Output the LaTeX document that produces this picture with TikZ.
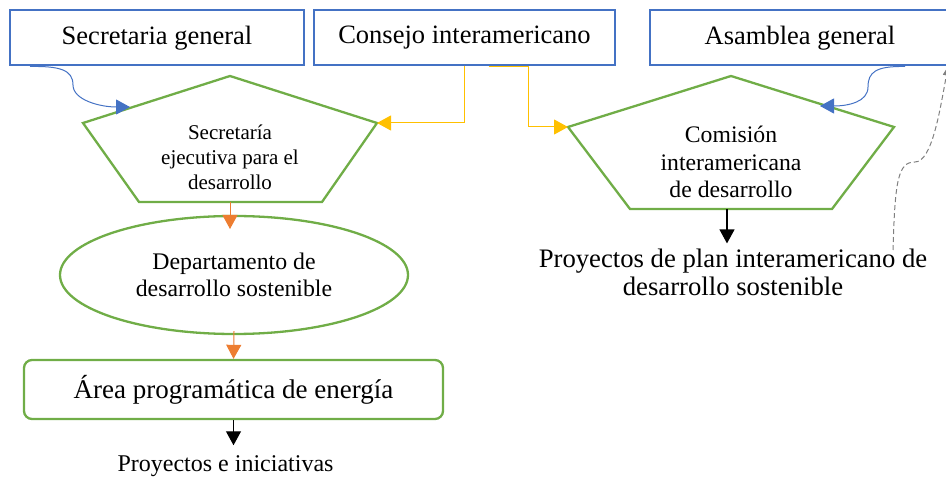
\documentclass[tikz,border=0pt]{standalone}
\usepackage{fontspec}
\setmainfont{Liberation Serif}
\usetikzlibrary{arrows.meta,shapes.geometric}
\definecolor{ofblue}{HTML}{4472C4}
\definecolor{ofgreen}{HTML}{70AD47}
\definecolor{oforange}{HTML}{ED7D31}
\definecolor{ofyellow}{HTML}{FFC000}
\definecolor{ofgray}{HTML}{808080}
\begin{document}
\begin{tikzpicture}[x=1pt,y=-1pt,
  topbox/.style={draw=ofblue,line width=2pt,minimum height=55pt,inner sep=0pt,font=\fontsize{26.5}{32}\selectfont},
  greenline/.style={draw=ofgreen,line width=2.3pt},
  conn/.style={line width=1pt},
  tri/.style={-{Triangle[length=14pt,width=15pt]}}]
\useasboundingbox (0,0) rectangle (946,478);
% top row
\node [topbox,minimum width=294pt] (sg) at (157,38) {Secretaria general};
\node [topbox,minimum width=301pt] (cons) at (464.5,38) {Consejo interamericano};
\node [topbox,minimum width=300pt] (asg) at (800,38) {Asamblea general};
% left pentagon
\coordinate (sejT) at (230,76);
\coordinate (sejR) at (377,123);
\coordinate (sejBR) at (322,202);
\coordinate (sejBL) at (139,202);
\coordinate (sejL) at (83,123);
\coordinate (sejB) at (230,202);
\coordinate (sejA) at (130,107);
\draw [greenline] (sejT) -- (sejR) -- (sejBR) -- (sejBL) -- (sejL) -- cycle;
\node [align=center,font=\fontsize{21}{25}\selectfont] (sej) at (230,157) {Secretaría\\ejecutiva para el\\desarrollo};
% right pentagon
\coordinate (cidT) at (731,76);
\coordinate (cidR) at (894,127);
\coordinate (cidBR) at (832,209);
\coordinate (cidBL) at (630,209);
\coordinate (cidL) at (568,127);
\coordinate (cidB) at (727,209);
\coordinate (cidA) at (820,106);
\draw [greenline] (cidT) -- (cidR) -- (cidBR) -- (cidBL) -- (cidL) -- cycle;
\node [align=center,font=\fontsize{23.7}{27.5}\selectfont] (cid) at (731,162) {Comisión\\interamericana\\de desarrollo};
% left column
\node [ellipse,greenline,minimum width=348pt,minimum height=118pt,align=center,font=\fontsize{23.8}{27}\selectfont] (dep) at (234,275) {Departamento de\\desarrollo sostenible};
\node [greenline,rounded corners=8pt,minimum width=419pt,minimum height=59pt,font=\fontsize{27}{32}\selectfont] (area) at (233.5,389.5) {Área programática de energía};
\node [inner ysep=10pt,font=\fontsize{24}{28}\selectfont] (proi) at (225.5,466) {Proyectos e iniciativas};
% right column
\node [align=center,inner ysep=5pt,font=\fontsize{26.7}{28}\selectfont] (proy) at (733,272) {Proyectos de plan interamericano de\\desarrollo sostenible};
\coordinate (gA) at (893,250);
% connectors
\draw [conn,ofblue,tri] ([xshift=21pt]sg.south west) .. controls (60,66) and (73,70) .. (73,85) .. controls (73,100) and (100,107) .. (sejA);
\draw [conn,ofblue,tri] ([xshift=105pt]asg.south) .. controls (876,66) and (868,72) .. (868,87) .. controls (868,102) and (848,106) .. (cidA);
\draw [conn,ofyellow,tri] (cons.south) |- (sejR);
\draw [conn,ofyellow,tri] ([xshift=24pt]cons.south) -- ([xshift=64pt]cons.south) |- (cidL);
\draw [conn,oforange,tri] (sejB) -- ++(0,27);
\draw [conn,oforange,tri] ([yshift=4pt]dep.south) -- (area.north);
\draw [line width=1.2pt,tri] (area.south) -- (area.south |- proi.north);
\draw [line width=1.2pt,tri] (cidB) -- (cidB |- proy.north);
\draw [conn,ofgray,dash pattern=on 5pt off 3pt,-{Triangle[length=9pt,width=7pt]}] (gA) .. controls (895,180) and (898,162) .. (915,162) .. controls (932,162) and (940,110) .. ([xshift=-3pt]asg.south east);
\end{tikzpicture}
\end{document}
